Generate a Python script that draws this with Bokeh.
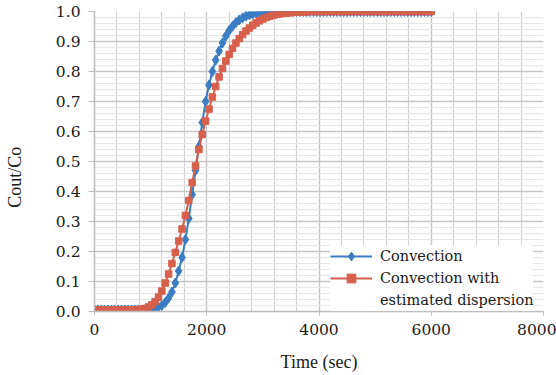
from bokeh.plotting import figure
from bokeh.models import (Range1d, SingleIntervalTicker, Legend, LegendItem,
                          NumeralTickFormatter, ColumnDataSource)
from bokeh.embed import file_html
from bokeh.resources import INLINE

# ---- data ----
time_sec = [0, 60, 120, 180, 240, 300, 360, 420, 480, 540,
            600, 660, 720, 780, 840, 900, 960, 1020, 1080, 1140,
            1200, 1260, 1320, 1380, 1440, 1500, 1560, 1620, 1680, 1740,
            1800, 1860, 1920, 1980, 2040, 2100, 2160, 2220, 2280, 2340,
            2400, 2460, 2520, 2580, 2640, 2700, 2760, 2820, 2880, 2940,
            3000, 3060, 3120, 3180, 3240, 3300, 3360, 3420, 3480, 3540,
            3600, 3660, 3720, 3780, 3840, 3900, 3960, 4020, 4080, 4140,
            4200, 4260, 4320, 4380, 4440, 4500, 4560, 4620, 4680, 4740,
            4800, 4860, 4920, 4980, 5040, 5100, 5160, 5220, 5280, 5340,
            5400, 5460, 5520, 5580, 5640, 5700, 5760, 5820, 5880, 5940,
            6000]

convection = [0.005, 0.005, 0.005, 0.005, 0.005, 0.005, 0.005, 0.005, 0.005, 0.005,
              0.005, 0.005, 0.005, 0.005, 0.005, 0.005, 0.006, 0.008, 0.011, 0.015,
              0.02, 0.03, 0.045, 0.065, 0.095, 0.135, 0.18, 0.24, 0.31, 0.39,
              0.47, 0.55, 0.63, 0.70, 0.755, 0.80, 0.838, 0.868, 0.895, 0.918,
              0.937, 0.951, 0.963, 0.972, 0.979, 0.985, 0.989, 0.992, 0.994, 0.996,
              0.997, 0.998, 0.999, 1.0, 1.0, 1.0, 1.0, 1.0, 1.0, 1.0,
              1.0, 1.0, 1.0, 1.0, 1.0, 1.0, 1.0, 1.0, 1.0, 1.0,
              1.0, 1.0, 1.0, 1.0, 1.0, 1.0, 1.0, 1.0, 1.0, 1.0,
              1.0, 1.0, 1.0, 1.0, 1.0, 1.0, 1.0, 1.0, 1.0, 1.0,
              1.0, 1.0, 1.0, 1.0, 1.0, 1.0, 1.0, 1.0, 1.0, 1.0,
              1.0]

dispersion = [0.005, 0.005, 0.005, 0.005, 0.005, 0.005, 0.005, 0.005, 0.005, 0.005,
              0.005, 0.005, 0.005, 0.006, 0.008, 0.01, 0.015, 0.022, 0.033, 0.048,
              0.068, 0.095, 0.125, 0.16, 0.197, 0.235, 0.275, 0.32, 0.37, 0.43,
              0.485, 0.54, 0.59, 0.635, 0.675, 0.715, 0.75, 0.782, 0.81, 0.835,
              0.857, 0.877, 0.895, 0.91, 0.923, 0.935, 0.945, 0.954, 0.962, 0.969,
              0.975, 0.98, 0.984, 0.987, 0.99, 0.992, 0.994, 0.995, 0.996, 0.997,
              0.998, 0.998, 0.999, 0.999, 1.0, 1.0, 1.0, 1.0, 1.0, 1.0,
              1.0, 1.0, 1.0, 1.0, 1.0, 1.0, 1.0, 1.0, 1.0, 1.0,
              1.0, 1.0, 1.0, 1.0, 1.0, 1.0, 1.0, 1.0, 1.0, 1.0,
              1.0, 1.0, 1.0, 1.0, 1.0, 1.0, 1.0, 1.0, 1.0, 1.0,
              1.0]

series_labels = ["Convection", "Convection with", "estimated dispersion"]
x_title = "Time (sec)"
y_title = "Cout/Co"

BLUE = "#3a7dc3"
RED = "#d6604b"
TITLE_FONT = "Liberation Serif"
TICK_FONT = "DejaVu Serif"
TXT = "#1a1a1a"

src = ColumnDataSource(data=dict(t=time_sec, conv=convection, disp=dispersion))

p = figure(width=556, height=375, output_backend="svg", toolbar_location=None,
           x_range=Range1d(0, 8000), y_range=Range1d(0, 1.0),
           min_border_left=94, min_border_right=13, min_border_top=11,
           min_border_bottom=64)
p.outline_line_color = None
p.background_fill_color = "white"
p.border_fill_color = "white"

p.xaxis.ticker = SingleIntervalTicker(interval=2000, num_minor_ticks=5)
p.yaxis.ticker = SingleIntervalTicker(interval=0.1, num_minor_ticks=5)
p.yaxis.formatter = NumeralTickFormatter(format="0.0")

for ax in (p.xaxis[0], p.yaxis[0]):
    ax.axis_line_color = "#bdbdbd"
    ax.axis_line_width = 1.5
    ax.major_tick_line_color = "#bdbdbd"
    ax.minor_tick_out = 0
    ax.minor_tick_in = 0
    ax.major_tick_in = 0
    ax.major_label_text_font = TICK_FONT
    ax.major_label_text_font_size = "15.5px"
    ax.major_label_text_color = TXT
    ax.axis_label_text_font = TITLE_FONT
    ax.axis_label_text_font_size = "18px"
    ax.axis_label_text_font_style = "normal"
    ax.axis_label_text_color = TXT

p.yaxis.major_tick_out = 6
p.yaxis.major_label_standoff = 8
p.yaxis.axis_label = y_title + "\u00a0" * 7
p.yaxis.axis_label_standoff = 28
p.xaxis.major_tick_out = 4
p.xaxis.major_label_standoff = 8
p.xaxis.axis_label = x_title
p.xaxis.axis_label_standoff = 14

p.xgrid.grid_line_color = "#c6c6c6"
p.xgrid.grid_line_width = 1.3
p.xgrid.minor_grid_line_color = "#d2d2d2"
p.xgrid.minor_grid_line_width = 1.2
p.ygrid.grid_line_color = "#c6c6c6"
p.ygrid.grid_line_width = 1.3
p.ygrid.minor_grid_line_color = "#e6e6e6"
p.ygrid.minor_grid_line_width = 1.0

bl = p.line("t", "conv", source=src, line_color=BLUE, line_width=2)
bs = p.scatter("t", "conv", source=src, marker="diamond", size=10,
               fill_color=BLUE, line_color=BLUE)
rl = p.line("t", "disp", source=src, line_color=RED, line_width=2)
rs = p.scatter("t", "disp", source=src, marker="square", size=6.5,
               fill_color=RED, line_color=RED)
dummy = p.line(x=[], y=[], line_alpha=0)

legend = Legend(items=[LegendItem(label=series_labels[0], renderers=[bl, bs]),
                       LegendItem(label=series_labels[1], renderers=[rl, rs]),
                       LegendItem(label=series_labels[2], renderers=[dummy])],
                location=(236, 0))
legend.glyph_width = 42
legend.glyph_height = 22
legend.label_height = 22
legend.label_standoff = 8
legend.spacing = 0
legend.padding = 3
legend.margin = 0
legend.border_line_color = None
legend.background_fill_color = "white"
legend.background_fill_alpha = 1.0
legend.label_text_font = TICK_FONT
legend.label_text_font_size = "14.5px"
legend.label_text_color = TXT
p.add_layout(legend)

open("out.html", "w").write(file_html(p, INLINE))
